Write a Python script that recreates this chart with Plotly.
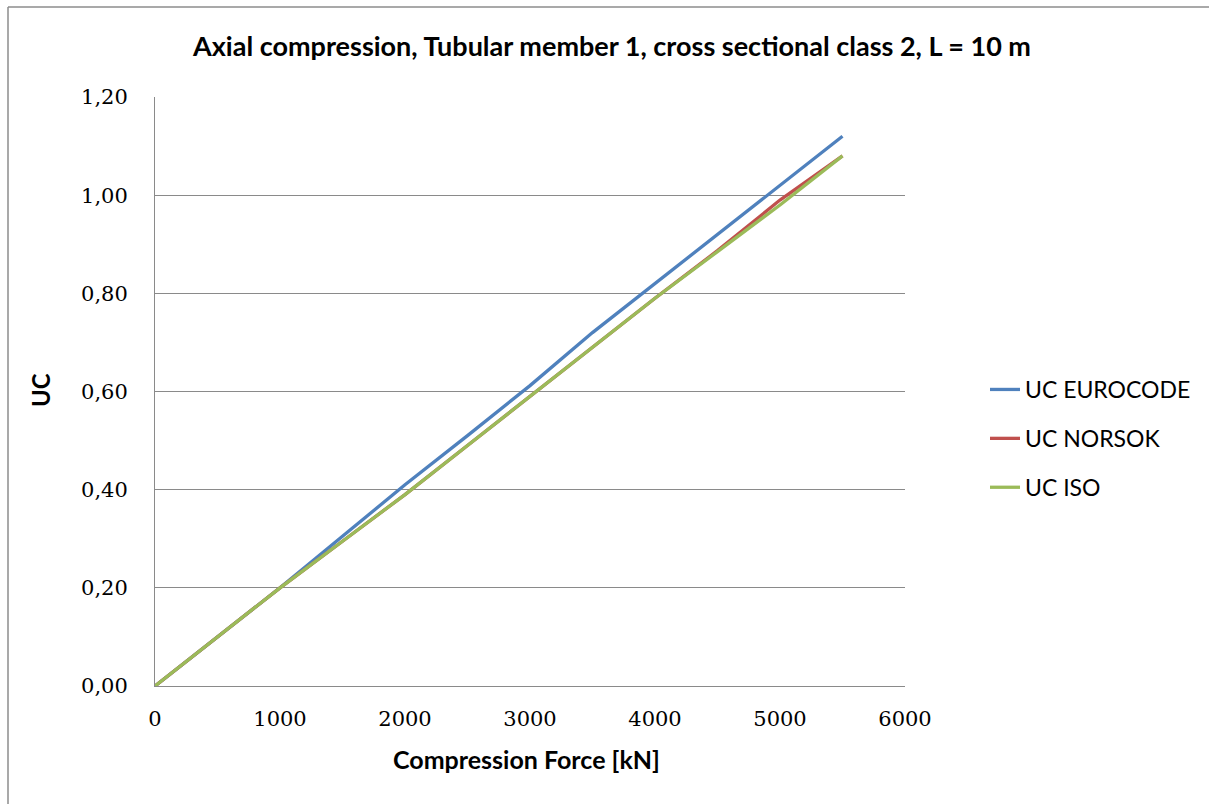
import plotly.graph_objects as go

# Compression force [kN]
force = [0, 500, 1000, 1500, 2000, 2500, 3000, 3500, 4000, 4500, 5000, 5500]

# Utilisation ratios per design code
uc_eurocode = [0.0, 0.10, 0.20, 0.305, 0.41, 0.51, 0.612, 0.72, 0.82, 0.92, 1.02, 1.12]
uc_norsok = [0.0, 0.10, 0.20, 0.295, 0.39, 0.49, 0.59, 0.69, 0.79, 0.887, 0.99, 1.08]
uc_iso = [0.0, 0.10, 0.20, 0.295, 0.39, 0.49, 0.59, 0.69, 0.79, 0.885, 0.98, 1.08]

series_names = ["UC EUROCODE", "UC NORSOK", "UC ISO"]
series_colors = ["#4F81BD", "#C0504D", "#9BBB59"]

x_tickvals = [0, 1000, 2000, 3000, 4000, 5000, 6000]
x_ticktext = ["0", "1000", "2000", "3000", "4000", "5000", "6000"]
y_tickvals = [0.0, 0.2, 0.4, 0.6, 0.8, 1.0, 1.2]
y_ticktext = ["0,00", "0,20", "0,40", "0,60", "0,80", "1,00", "1,20"]

title_text = "Axial compression, Tubular member 1, cross sectional class 2, L = 10 m"
x_title = "Compression Force [kN]"
y_title = "UC"

W, H = 1209, 804
L, R, T, B = 155, W - 905, 97, H - 686
PW, PH = W - L - R, H - T - B
GRID = "#8a8a8a"
SANS = "Lato, 'Open Sans', sans-serif"
SERIF = "'DejaVu Serif', serif"

fig = go.Figure()
for name, vals, col in zip(series_names, [uc_eurocode, uc_norsok, uc_iso], series_colors):
    fig.add_trace(go.Scatter(
        x=force, y=vals, mode="lines", name=name,
        line=dict(color=col, width=3.3),
        legendgroup=name,
    ))

# chart-area frame: only its left and top edges fall inside the page
frame_x0 = (8 - L) / PW
frame_x1 = (W + 50 - L) / PW
frame_y0 = (686 - (H + 50)) / PH
frame_y1 = (686 - 7) / PH
frame_line = dict(color="#8c8c8c", width=1.5)

fig.update_layout(
    width=W, height=H,
    margin=dict(l=L, r=R, t=T, b=B, autoexpand=False),
    paper_bgcolor="white", plot_bgcolor="white",
    title=dict(
        text=f"<b>{title_text}</b>",
        x=612 / W, xref="container", xanchor="center",
        y=1 - 47 / H, yref="container", yanchor="middle",
        font=dict(family=SANS, size=27, color="#000000"),
    ),
    xaxis=dict(
        range=[0, 6000], tickvals=x_tickvals, ticktext=x_ticktext,
        showgrid=False, zeroline=False,
        showline=True, linecolor=GRID, linewidth=1,
        ticks="", ticklabelstandoff=14,
        tickfont=dict(family=SERIF, size=21, color="#000000"),
    ),
    yaxis=dict(
        range=[0, 1.2], tickvals=y_tickvals, ticktext=y_ticktext,
        showgrid=True, gridcolor=GRID, gridwidth=1, zeroline=False,
        showline=True, linecolor=GRID, linewidth=1,
        ticks="", ticklabelstandoff=22,
        tickfont=dict(family=SERIF, size=21, color="#000000"),
    ),
    legend=dict(
        x=(985 - L) / PW, xanchor="left",
        y=(686 - 368) / PH, yanchor="top",
        font=dict(family=SANS, size=23, color="#000000"),
        tracegroupgap=16, bgcolor="rgba(0,0,0,0)",
    ),
    showlegend=True,
    annotations=[
        dict(text=f"<b>{y_title}</b>", xref="paper", yref="paper",
             x=(40 - L) / PW, y=(686 - 390) / PH,
             xanchor="center", yanchor="middle", textangle=-90, showarrow=False,
             font=dict(family=SANS, size=24, color="#000000")),
        dict(text=f"<b>{x_title}</b>", xref="paper", yref="paper",
             x=(526.5 - L) / PW, y=(686 - 759) / PH,
             xanchor="center", yanchor="middle", showarrow=False,
             font=dict(family=SANS, size=25, color="#000000")),
    ],
    shapes=[
        dict(type="line", xref="paper", yref="paper", layer="below",
             x0=frame_x0, x1=frame_x0, y0=frame_y0, y1=frame_y1, line=frame_line),
        dict(type="line", xref="paper", yref="paper", layer="below",
             x0=frame_x0, x1=frame_x1, y0=frame_y1, y1=frame_y1, line=frame_line),
    ],
)

fig.write_html("out.html", config={"displayModeBar": False})
